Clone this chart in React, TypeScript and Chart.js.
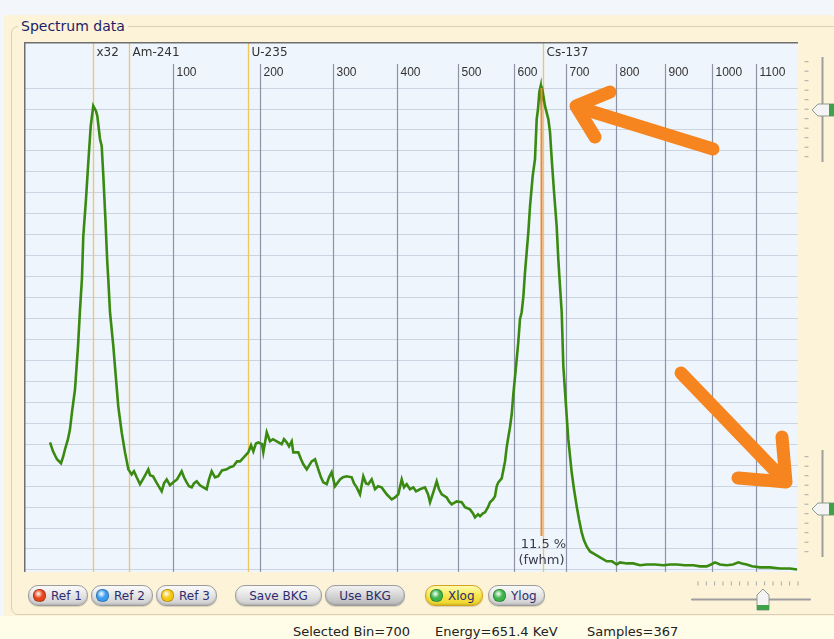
import React, { useEffect, useRef } from "react";
import { Chart, registerables } from "chart.js";

Chart.register(...registerables);

// Display channel (0..1000 across the plot) and counts (10 units per grid row)
const specX = [
  33.6, 37.5, 42.6, 47.8, 50.4, 53.0, 56.8, 59.4, 62.0, 65.9, 69.8, 72.4, 74.9, 76.6, 80.1, 83.1, 86.2, 89.5, 91.7, 93.0,
  94.7, 98.2, 100.4, 102.5, 105.0, 107.6, 108.9, 111.1, 115.4, 118.9, 121.8, 126.2, 130.5, 134.8, 139.1, 142.1, 145.6, 149.9, 155.0, 160.6,
  162.8, 166.7, 171.8, 177.9, 180.9, 184.4, 188.6, 192.9, 197.7, 203.7, 206.7, 210.2, 213.2, 216.7, 219.6, 223.1, 227.4, 231.7, 236.0, 239.0,
  242.5, 246.8, 251.0, 255.8, 261.9, 266.2, 270.4, 275.2, 279.1, 284.2, 289.8, 293.3, 296.3, 299.7, 302.7, 307.5, 309.2, 313.6, 317.8, 321.7,
  326.5, 332.9, 335.9, 339.4, 342.4, 345.9, 347.9, 354.4, 357.9, 360.9, 365.3, 371.7, 376.0, 380.2, 383.7, 386.7, 391.1, 394.1, 397.5, 401.8,
  408.3, 412.1, 416.9, 423.4, 426.4, 429.8, 434.1, 438.4, 441.9, 444.8, 449.2, 453.5, 457.4, 462.1, 468.6, 475.1, 479.3, 483.6, 488.0, 491.0,
  494.4, 498.7, 503.0, 506.5, 511.6, 518.1, 522.0, 524.6, 528.8, 533.2, 536.2, 539.7, 546.1, 549.1, 552.6, 559.0, 565.5, 569.8, 576.2, 580.1,
  582.7, 586.6, 589.2, 593.0, 595.6, 599.5, 602.1, 605.9, 608.5, 610.7, 612.8, 617.2, 621.5, 623.6, 625.7, 627.9, 630.1, 632.2, 635.7, 638.6,
  640.8, 643.0, 645.1, 647.3, 651.6, 653.8, 657.2, 660.2, 662.4, 664.1, 665.8, 667.6, 668.6, 670.2, 673.1, 677.4, 679.6, 681.8, 684.8, 688.2,
  690.3, 692.5, 694.7, 696.8, 700.3, 703.2, 707.6, 710.6, 714.1, 717.1, 720.5, 723.5, 727.0, 731.3, 737.7, 744.2, 752.8, 759.7, 765.8, 770.0,
  779.1, 787.2, 795.9, 804.5, 815.3, 826.0, 834.6, 843.3, 854.0, 864.7, 873.4, 882.1, 887.6, 892.8, 899.2, 907.9, 916.0, 922.9, 927.7, 933.7,
  940.6, 950.9, 963.8, 976.8, 989.7, 998.7,
];
const specY = [
  60.9, 56.6, 52.8, 50.9, 53.8, 57.6, 62.4, 67.1, 75.3, 86.2, 106.8, 124.5, 139.3, 159.3, 177.0, 194.7, 211.9, 221.5, 220.0, 219.1,
  216.7, 205.7, 202.3, 188.0, 168.9, 146.9, 138.8, 123.0, 106.8, 91.0, 78.1, 65.7, 56.1, 48.0, 45.6, 47.1, 44.2, 40.9, 44.2, 48.0,
  45.2, 44.7, 41.3, 37.5, 41.3, 43.2, 40.4, 41.8, 43.2, 47.1, 44.2, 41.8, 39.9, 39.4, 41.3, 42.3, 40.4, 39.4, 38.5, 43.2,
  47.1, 44.2, 44.7, 47.5, 48.0, 49.0, 49.5, 51.8, 51.8, 53.8, 56.1, 59.5, 56.6, 60.4, 60.9, 60.0, 56.1, 65.7, 61.4, 62.4,
  61.4, 60.0, 62.4, 60.9, 59.0, 61.4, 56.1, 56.1, 52.8, 50.4, 48.0, 51.8, 52.8, 48.0, 44.2, 41.8, 40.9, 44.2, 46.6, 39.9,
  43.2, 44.2, 44.7, 44.2, 41.3, 39.4, 36.1, 44.7, 41.3, 40.9, 43.2, 38.5, 39.9, 39.4, 36.1, 33.7, 34.6, 36.1, 43.2, 39.4,
  40.9, 38.5, 39.4, 37.5, 38.5, 39.4, 36.1, 32.3, 37.0, 42.3, 38.5, 36.1, 34.6, 32.7, 31.3, 32.7, 32.3, 29.9, 28.9, 27.0,
  25.1, 26.5, 25.6, 27.0, 27.5, 29.9, 32.3, 33.7, 35.1, 39.9, 41.8, 43.7, 51.8, 58.5, 63.3, 68.1, 74.3, 83.8, 97.2, 108.7,
  119.7, 123.0, 130.2, 142.1, 161.2, 173.7, 188.0, 196.1, 215.2, 220.0, 228.1, 231.0, 224.8, 228.1, 221.5, 215.2, 209.0, 196.1, 180.4, 164.1,
  148.4, 135.5, 123.0, 97.2, 78.1, 62.4, 46.6, 38.5, 30.3, 24.1, 17.9, 14.1, 11.2, 8.8, 7.4, 6.0, 4.1, 4.1, 2.6, 3.6,
  3.1, 3.1, 2.2, 2.6, 2.6, 2.2, 2.6, 2.6, 2.2, 2.2, 1.7, 1.7, 2.6, 3.6, 2.6, 2.2, 2.6, 3.6, 3.1, 2.6,
  1.7, 1.2, 1.2, 0.7, 0.7, 0.2,
];

const energyTicks = [100, 200, 300, 400, 500, 600, 700, 800, 900, 1000, 1100];
const energyTickChannel = [192.1, 304.9, 398.8, 482.3, 561.1, 633.1, 699.9, 764.9, 828.2, 888.5, 945.7];
const refLabels = ["x32", "Am-241", "U-235", "Cs-137"];
const refChannel = [88.8, 135.7, 289.4, 670.9];
const cursorChannel = 668.6;
const fwhmLines = ["11.5 %", "(fwhm)"];
const yGridValues = [0, 10, 20, 30, 40, 50, 60, 70, 80, 90, 100, 110, 120, 130, 140, 150, 160, 170, 180, 190, 200, 210, 220, 230];
const infoFields = ["Selected Bin=700", "Energy=651.4 KeV", "Samples=367"];

const overlayPlugin = {
  id: "spectrumOverlay",
  beforeDraw(chart: any) {
    const { ctx, chartArea: a } = chart;
    ctx.save();
    ctx.fillStyle = "#EFF5FC";
    ctx.fillRect(a.left, a.top, a.right - a.left, a.bottom - a.top);
    ctx.restore();
  },
  beforeDatasetsDraw(chart: any) {
    const { ctx, chartArea: a, scales } = chart;
    const x = scales.x;
    ctx.save();
    ctx.textBaseline = "middle";
    ctx.textAlign = "left";
    energyTickChannel.forEach((v, i) => {
      const px = Math.round(x.getPixelForValue(v)) + 0.5;
      ctx.strokeStyle = "#8B93A5";
      ctx.lineWidth = 1.2;
      ctx.beginPath();
      ctx.moveTo(px, a.top + 22);
      ctx.lineTo(px, a.bottom);
      ctx.stroke();
      ctx.fillStyle = "#333333";
      ctx.font = '12px "Liberation Sans", Arial, sans-serif';
      ctx.fillText(String(energyTicks[i]), px + 3, a.top + 31);
    });
    refChannel.forEach((v, i) => {
      const px = Math.round(x.getPixelForValue(v)) + 0.5;
      ctx.strokeStyle = "#F1C65E";
      ctx.lineWidth = 1.3;
      ctx.beginPath();
      ctx.moveTo(px, a.top);
      ctx.lineTo(px, a.bottom);
      ctx.stroke();
      ctx.fillStyle = "#333333";
      ctx.font = '12px "DejaVu Sans", Verdana, sans-serif';
      ctx.fillText(refLabels[i], px + 3, a.top + 11);
    });
    ctx.restore();
  },
  afterDatasetsDraw(chart: any) {
    const { ctx, chartArea: a, scales } = chart;
    const x = scales.x;
    ctx.save();
    const cx = x.getPixelForValue(cursorChannel);
    ctx.strokeStyle = "#EC8A32";
    ctx.lineWidth = 2;
    ctx.beginPath();
    ctx.moveTo(cx, a.top + 46);
    ctx.lineTo(cx, a.bottom - 36);
    ctx.stroke();
    ctx.fillStyle = "#3A3A4C";
    ctx.font = '13px "DejaVu Sans", Verdana, sans-serif';
    ctx.textAlign = "center";
    ctx.textBaseline = "middle";
    ctx.fillText(fwhmLines[0], cx + 2, a.bottom - 27);
    ctx.fillText(fwhmLines[1], cx, a.bottom - 11);
    ctx.strokeStyle = "#6E6E6E";
    ctx.lineWidth = 1.5;
    ctx.beginPath();
    ctx.moveTo(a.left + 0.75, a.bottom);
    ctx.lineTo(a.left + 0.75, a.top + 0.75);
    ctx.lineTo(a.right, a.top + 0.75);
    ctx.stroke();
    ctx.restore();
  },
};

function SpectrumChart() {
  const ref = useRef<HTMLCanvasElement | null>(null);
  useEffect(() => {
    if (!ref.current) return;
    const points = specX.map((v, i) => ({ x: v, y: specY[i] }));
    const chart = new Chart(ref.current, {
      type: "line",
      data: {
        datasets: [
          {
            data: points,
            borderColor: "#3A8A12",
            borderWidth: 2.6,
            pointRadius: 0,
            tension: 0,
            fill: false,
          },
        ],
      },
      options: {
        animation: false,
        responsive: false,
        maintainAspectRatio: false,
        layout: { padding: 0 },
        plugins: { legend: { display: false }, tooltip: { enabled: false } },
        scales: {
          x: { type: "linear", min: 0, max: 1000, display: false },
          y: {
            type: "linear",
            min: -1,
            max: 252,
            display: true,
            ticks: { display: false },
            grid: { color: "#CBD4E0", lineWidth: 1, drawTicks: false },
            border: { display: false },
            afterBuildTicks: (s: any) => {
              s.ticks = yGridValues.map((v) => ({ value: v }));
            },
          },
        },
      },
      plugins: [overlayPlugin],
    } as any);
    return () => chart.destroy();
  }, []);
  return (
    <canvas
      ref={ref}
      width={774}
      height={530}
      style={{ position: "absolute", left: 24, top: 42, width: 774, height: 530 }}
    />
  );
}

type BtnProps = { left: number; width: number; label: string; dot?: string; active?: boolean; dark?: boolean };

function Btn({ left, width, label, dot, active, dark }: BtnProps) {
  const bg = active
    ? "linear-gradient(#FFFCB0, #F6E447 55%, #EFD52A)"
    : dark
    ? "linear-gradient(#F2F2F2, #D2D2D2 55%, #B9B9B9)"
    : "linear-gradient(#FBFBFB, #E2E2E2 55%, #CDCDCD)";
  return (
    <div
      style={{
        position: "absolute",
        left,
        top: 585,
        width,
        height: 21,
        boxSizing: "border-box",
        borderRadius: 10,
        border: active ? "1.5px solid #D6A21E" : "1px solid #9C9C9C",
        background: bg,
        boxShadow: "inset 0 -1px 2px rgba(0,0,0,0.15), 0 1px 1px rgba(0,0,0,0.15)",
        display: "flex",
        alignItems: "center",
        justifyContent: dot ? "flex-start" : "center",
        fontSize: 12,
        color: "#2C2C70",
        fontFamily: '"DejaVu Sans", Verdana, sans-serif',
      }}
    >
      {dot && (
        <span
          style={{
            display: "inline-block",
            width: 11,
            height: 11,
            borderRadius: 6,
            marginLeft: 4,
            marginRight: 5,
            background: `radial-gradient(circle at 40% 35%, #ffffff 0%, ${dot} 45%, ${dot} 100%)`,
            border: "1px solid rgba(0,0,0,0.25)",
          }}
        />
      )}
      <span>{label}</span>
    </div>
  );
}

export default function App() {
  const vTicksTop = [61.7, 71.2, 80.7, 90.2, 99.7, 109.2, 118.7, 128.2, 137.7, 147.2, 156.7];
  const vTicksBottom = [456.7, 466.2, 475.7, 485.2, 494.7, 504.2, 513.7, 523.2, 532.7, 542.2, 551.7];
  const hTicks = [698, 706.3, 714.6, 723, 731.3, 739.6, 748, 756.3, 764.6, 773, 781.3, 789.6, 798];
  const vThumb = (y: number) => (
    <g>
      <polygon
        points={`812,${y} 818,${y - 6} 836,${y - 6} 836,${y + 6} 818,${y + 6}`}
        fill="#F4F4F4"
        stroke="#8E9A8E"
        strokeWidth={1}
      />
      <rect x={829} y={y - 6} width={7} height={12} fill="#3FA24A" />
    </g>
  );
  return (
    <div
      style={{
        position: "fixed",
        left: 0,
        top: 0,
        width: 834,
        height: 639,
        overflow: "hidden",
        background: "#F3F6FA",
        fontFamily: '"DejaVu Sans", Verdana, sans-serif',
      }}
    >
      <div style={{ position: "absolute", left: 4, top: 15, width: 840, height: 601, background: "#FCF3D8" }} />
      <div style={{ position: "absolute", left: 0, top: 616, width: 834, height: 23, background: "#FFFCE8" }} />
      <div
        style={{
          position: "absolute",
          left: 11,
          top: 26,
          width: 850,
          height: 587,
          border: "1px solid #D8D0B8",
          borderRadius: 7,
        }}
      />
      <div
        style={{
          position: "absolute",
          left: 18,
          top: 18,
          padding: "0 3px",
          background: "#FCF3D8",
          color: "#1D1D6C",
          fontSize: 14,
          lineHeight: "16px",
        }}
      >
        Spectrum data
      </div>
      <SpectrumChart />
      <Btn left={28} width={60} label="Ref 1" dot="#E8451A" />
      <Btn left={91} width={62} label="Ref 2" dot="#3B9BF0" />
      <Btn left={156} width={61} label="Ref 3" dot="#F7C812" />
      <Btn left={235} width={87} label="Save BKG" />
      <Btn left={325} width={80} label="Use BKG" dark />
      <Btn left={425} width={58} label="Xlog" dot="#3DB54A" active />
      <Btn left={488} width={57} label="Ylog" dot="#3DB54A" />
      <div style={{ position: "absolute", left: 293, top: 624, fontSize: 13, lineHeight: "16px", color: "#222" }}>
        {infoFields[0]}
      </div>
      <div style={{ position: "absolute", left: 435, top: 624, fontSize: 13, lineHeight: "16px", color: "#222" }}>
        {infoFields[1]}
      </div>
      <div style={{ position: "absolute", left: 587, top: 624, fontSize: 13, lineHeight: "16px", color: "#222" }}>
        {infoFields[2]}
      </div>
      <svg width={834} height={639} style={{ position: "absolute", left: 0, top: 0, pointerEvents: "none" }}>
        <line x1={822.5} y1={57} x2={822.5} y2={162} stroke="#9E9E9E" strokeWidth={2} />
        <line x1={822.5} y1={450} x2={822.5} y2={557} stroke="#9E9E9E" strokeWidth={2} />
        {vTicksTop.map((y) => (
          <line key={"a" + y} x1={804.5} x2={808.5} y1={y} y2={y} stroke="#A8A8A8" strokeWidth={1} />
        ))}
        {vTicksBottom.map((y) => (
          <line key={"b" + y} x1={804.5} x2={808.5} y1={y} y2={y} stroke="#A8A8A8" strokeWidth={1} />
        ))}
        {vThumb(110)}
        {vThumb(509)}
        <line x1={692} y1={599.5} x2={810} y2={599.5} stroke="#9E9E9E" strokeWidth={2} strokeLinecap="round" />
        {hTicks.map((x) => (
          <line key={"h" + x} x1={x} x2={x} y1={581.5} y2={585.5} stroke="#A8A8A8" strokeWidth={1} />
        ))}
        <polygon points="757,610 757,595 763,589 769,595 769,610" fill="#F4F4F4" stroke="#8E9A8E" strokeWidth={1} />
        <rect x={757} y={605} width={12} height={5} fill="#3FA24A" />
        <g stroke="#F6841F" strokeWidth={13} strokeLinecap="round" strokeLinejoin="round" fill="none">
          <line x1={713} y1={149} x2={577} y2={107} />
          <polyline points="610,92 576,106 595,137" />
          <line x1={681} y1={373} x2={785} y2={481} />
          <polyline points="782,437 786,482 738,478" />
        </g>
      </svg>
    </div>
  );
}
